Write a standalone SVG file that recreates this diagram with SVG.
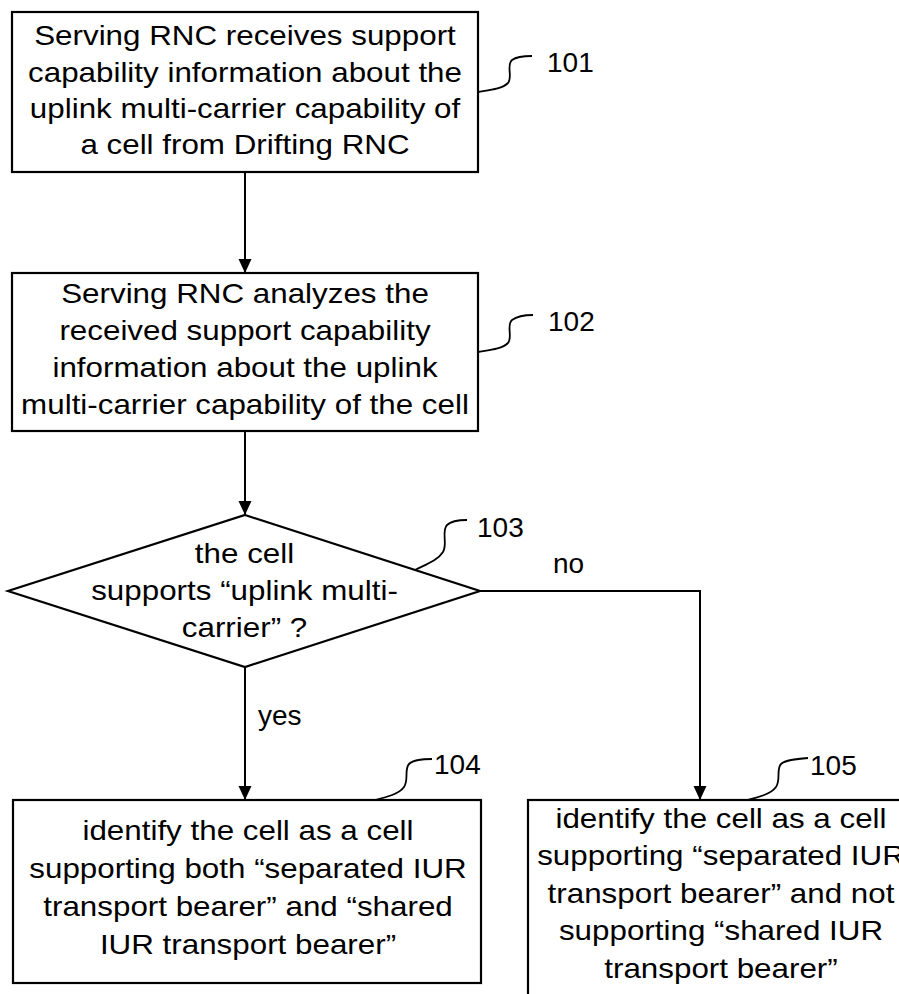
<svg xmlns="http://www.w3.org/2000/svg" width="899" height="994" viewBox="0 0 899 994">
<style>
.box{fill:#fff;stroke:#000;stroke-width:2.2}
.ln{fill:none;stroke:#000;stroke-width:2}
.hk{fill:none;stroke:#000;stroke-width:1.8}
text{font-family:"Liberation Sans",Arial,sans-serif;font-size:28px;fill:#000}
.c{text-anchor:middle}
</style>
<defs>
<marker id="ah" markerUnits="userSpaceOnUse" markerWidth="14" markerHeight="14" viewBox="0 0 14 14" refX="14" refY="7" orient="auto">
<path d="M0,0.5 L14,7 L0,13.5 Z" fill="#000"/>
</marker>
</defs>
<rect width="899" height="994" fill="#fff"/>
<g id="connectors">
<path class="ln" d="M245,172 L245,273" marker-end="url(#ah)"/>
<path class="ln" d="M245,431 L245,515" marker-end="url(#ah)"/>
<path class="ln" d="M245,667 L245,800" marker-end="url(#ah)"/>
<path class="ln" d="M480,591 L700,591 L700,800" marker-end="url(#ah)"/>
<text x="553" y="573">no</text>
<text x="258" y="725">yes</text>
</g>
<g id="n101">
<rect class="box" x="12" y="12" width="466" height="160"/>
<g transform="translate(245,0) scale(1.12,1)">
<text class="c" x="0" y="45">Serving RNC receives support</text>
<text class="c" x="0" y="82">capability information about the</text>
<text class="c" x="0" y="118">uplink multi-carrier capability of</text>
<text class="c" x="0" y="154">a cell from Drifting RNC</text>
</g>
<path class="hk" d="M478,92 C490,90 502,89 508,83 C513,77 506,65 512,60 C516,57 522,56 532,56"/>
<text x="547" y="72">101</text>
</g>
<g id="n102">
<rect class="box" x="12" y="273" width="466" height="158"/>
<g transform="translate(245,0) scale(1.12,1)">
<text class="c" x="0" y="303">Serving RNC analyzes the</text>
<text class="c" x="0" y="340">received support capability</text>
<text class="c" x="0" y="377">information about the uplink</text>
<text class="c" x="0" y="414">multi-carrier capability of the cell</text>
</g>
<path class="hk" d="M478,352 C490,350 502,349 508,343 C513,337 506,325 512,320 C516,317 522,315 533,315"/>
<text x="548" y="331">102</text>
</g>
<g id="n103">
<polygon class="box" points="245,515 480,591 245,667 8,591"/>
<g transform="translate(244.5,0) scale(1.12,1)">
<text class="c" x="0" y="563">the cell</text>
<text class="c" x="0" y="600">supports “uplink multi-</text>
<text class="c" x="0" y="637">carrier” ?</text>
</g>
<path class="hk" d="M415,570 C427,564 438,560 443,552 C448,544 441,531 447,525 C451,521 458,520 467,520"/>
<text x="477" y="537">103</text>
</g>
<g id="n104">
<rect class="box" x="13" y="800" width="468" height="183"/>
<g transform="translate(248,0) scale(1.12,1)">
<text class="c" x="0" y="840">identify the cell as a cell</text>
<text class="c" x="0" y="878">supporting both “separated IUR</text>
<text class="c" x="0" y="916">transport bearer” and “shared</text>
<text class="c" x="0" y="954">IUR transport bearer”</text>
</g>
<path class="hk" d="M375,800 C387,797 399,794 404,787 C409,780 404,769 409,764 C413,760 420,759 432,759"/>
<text x="434" y="774">104</text>
</g>
<g id="n105">
<rect class="box" x="528" y="800" width="386" height="205"/>
<g transform="translate(721,0) scale(1.12,1)">
<text class="c" x="0" y="828">identify the cell as a cell</text>
<text class="c" x="0" y="865">supporting “separated IUR</text>
<text class="c" x="0" y="903">transport bearer” and not</text>
<text class="c" x="0" y="940">supporting “shared IUR</text>
<text class="c" x="0" y="978">transport bearer”</text>
</g>
<path class="hk" d="M747,800 C759,797 771,794 776,787 C781,780 776,769 781,764 C785,760 795,759 808,758"/>
<text x="810" y="775">105</text>
</g>
</svg>
